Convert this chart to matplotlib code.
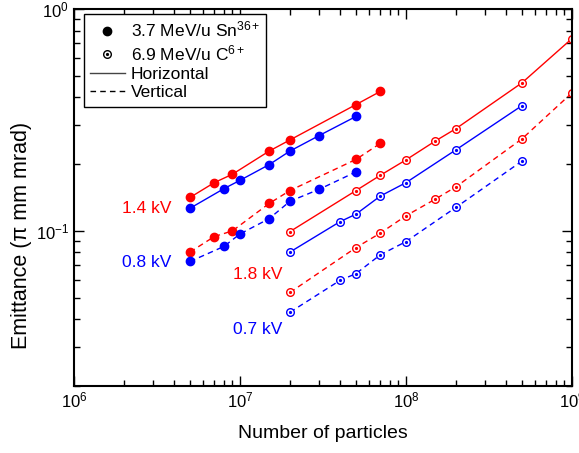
import matplotlib
matplotlib.use('Agg')
import matplotlib.pyplot as plt
from matplotlib.lines import Line2D
from matplotlib.ticker import LogLocator, NullFormatter

plt.rcParams['font.family'] = ['Liberation Sans', 'DejaVu Sans']
plt.rcParams['mathtext.fontset'] = 'custom'
plt.rcParams['mathtext.rm'] = 'Liberation Sans'
plt.rcParams['mathtext.it'] = 'Liberation Sans:italic'

# Sn36+ (3.7 MeV/u), filled markers
sn_14_h_n = [5e6, 7e6, 9e6, 1.5e7, 2e7, 5e7, 7e7]
sn_14_h_e = [0.1415, 0.165, 0.180, 0.229, 0.257, 0.371, 0.425]
sn_14_v_n = [5e6, 7e6, 9e6, 1.5e7, 2e7, 5e7, 7e7]
sn_14_v_e = [0.0803, 0.0943, 0.100, 0.133, 0.152, 0.210, 0.248]
sn_08_h_n = [5e6, 8e6, 1e7, 1.5e7, 2e7, 3e7, 5e7]
sn_08_h_e = [0.1265, 0.155, 0.169, 0.199, 0.229, 0.269, 0.328]
sn_08_v_n = [5e6, 8e6, 1e7, 1.5e7, 2e7, 3e7, 5e7]
sn_08_v_e = [0.0728, 0.0851, 0.0969, 0.1136, 0.136, 0.154, 0.1845]

# C6+ (6.9 MeV/u), open markers with a centre dot
c_18_h_n = [2e7, 5e7, 7e7, 1e8, 1.5e8, 2e8, 5e8, 1e9]
c_18_h_e = [0.0993, 0.152, 0.178, 0.209, 0.254, 0.289, 0.465, 0.736]
c_18_v_n = [2e7, 5e7, 7e7, 1e8, 1.5e8, 2e8, 5e8, 1e9]
c_18_v_e = [0.0528, 0.0841, 0.0977, 0.117, 0.139, 0.158, 0.260, 0.419]
c_07_h_n = [2e7, 4e7, 5e7, 7e7, 1e8, 2e8, 5e8]
c_07_h_e = [0.0803, 0.110, 0.119, 0.1435, 0.165, 0.232, 0.367]
c_07_v_n = [2e7, 4e7, 5e7, 7e7, 1e8, 2e8, 5e8]
c_07_v_e = [0.0430, 0.0598, 0.0642, 0.078, 0.0895, 0.1277, 0.2065]

# voltage labels: (x, y, text, colour)
labels = [(2.75e6, 0.1256, '1.4 kV', 'r'),
          (2.75e6, 0.0718, '0.8 kV', 'b'),
          (1.28e7, 0.0634, '1.8 kV', 'r'),
          (1.28e7, 0.0358, '0.7 kV', 'b')]

legend_labels = ['3.7 MeV/u Sn$^{\\mathregular{36+}}$',
                 '6.9 MeV/u C$^{\\mathregular{6+}}$',
                 'Horizontal', 'Vertical']

red = '#ff0000'
blue = '#0000ff'

fig = plt.figure(figsize=(5.79, 4.53), dpi=100)
ax = fig.add_axes([74 / 579, 1 - 386 / 453, 498 / 579, 377 / 453])

def filled(n, e, c, ls):
    ax.plot(n, e, color=c, ls=ls, lw=1, marker='o', ms=6, mfc=c, mec=c)

def opendot(n, e, c, ls):
    ax.plot(n, e, color=c, ls=ls, lw=1, marker='o', ms=5.5, mfc='white',
            mec=c, mew=1)
    ax.plot(n, e, ls='none', marker='o', ms=1.3, mfc=c, mec=c)

dash = (0, (4, 3))
filled(sn_14_h_n, sn_14_h_e, red, '-')
filled(sn_14_v_n, sn_14_v_e, red, dash)
filled(sn_08_h_n, sn_08_h_e, blue, '-')
filled(sn_08_v_n, sn_08_v_e, blue, dash)
opendot(c_18_h_n, c_18_h_e, red, '-')
opendot(c_18_v_n, c_18_v_e, red, dash)
opendot(c_07_h_n, c_07_h_e, blue, '-')
opendot(c_07_v_n, c_07_v_e, blue, dash)

for x, y, t, c in labels:
    ax.text(x, y, t, color=red if c == 'r' else blue, fontsize=12.5,
            ha='center', va='center')

ax.set_xscale('log')
ax.set_yscale('log')
ax.set_xlim(1e6, 1e9)
ax.set_ylim(0.02, 1)
ax.yaxis.set_minor_locator(LogLocator(base=10, subs=range(2, 10)))
ax.yaxis.set_minor_formatter(NullFormatter())
ax.tick_params(which='both', direction='in', top=True, right=True, labelsize=12)
ax.tick_params(which='major', length=7, width=1)
ax.tick_params(which='minor', length=4, width=1)
for s in ax.spines.values():
    s.set_linewidth(1.5)

ax.set_xlabel('Number of particles', fontsize=14, labelpad=10)
ax.set_ylabel('Emittance (π mm mrad)', fontsize=15.5)
ax.yaxis.set_label_coords(-0.084, 0.40)

h1 = Line2D([], [], ls='none', marker='o', ms=6, color='black')
h2a = Line2D([], [], ls='none', marker='o', ms=5.5, mfc='white', mec='black')
h2b = Line2D([], [], ls='none', marker='o', ms=1.3, color='black')
h3 = Line2D([], [], ls='-', lw=1, color='#444444')
h4 = Line2D([], [], ls=dash, lw=1, color='black')
leg = ax.legend([h1, (h2a, h2b), h3, h4], legend_labels,
                loc='upper left', bbox_to_anchor=(0.02, 0.987), fontsize=12.5,
                fancybox=False, edgecolor='black', framealpha=1,
                handlelength=2.0, handletextpad=0.35, borderpad=0.35,
                labelspacing=0.2, borderaxespad=0)
leg.get_frame().set_linewidth(1)

fig.savefig('out.png', dpi=100)
